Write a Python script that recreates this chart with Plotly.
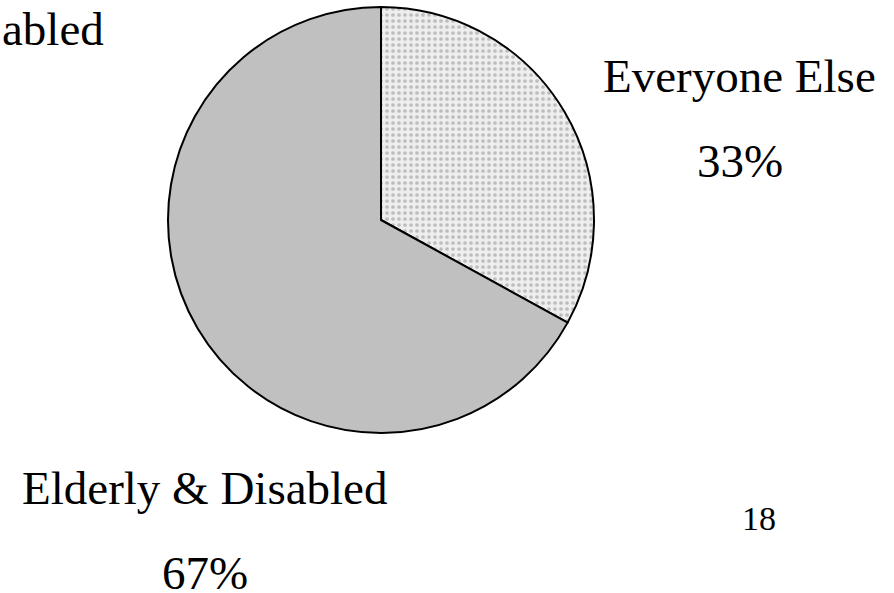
import plotly.graph_objects as go

W, H = 894, 593

labels = ["Everyone Else", "Elderly & Disabled"]
values = [33, 67]
pct_text = ["33%", "67%"]
slice_colors = ["#eeeeee", "#c0c0c0"]
slide_number = "18"

FONT = "Liberation Serif"

fig = go.Figure()
fig.add_trace(go.Pie(
    labels=labels,
    values=values,
    sort=False,
    direction="clockwise",
    rotation=0,
    textinfo="none",
    hoverinfo="skip",
    showlegend=False,
    marker=dict(
        colors=slice_colors,
        line=dict(color="black", width=2),
        pattern=dict(
            shape=[".", ""],
            fgcolor=["#bdbdbd", "#c0c0c0"],
            bgcolor=slice_colors,
            size=6,
            solidity=0.3,
        ),
    ),
    domain=dict(x=[(381 - 213) / W, (381 + 213) / W],
                y=[1 - (220 + 213) / H, 1 - (220 - 213) / H]),
))


def px(x):
    return x / W


def py(y):
    return 1 - y / H


def ann(text, x, y, size, xanchor="center"):
    fig.add_annotation(text=text, x=px(x), y=py(y), xref="paper", yref="paper",
                       xanchor=xanchor, yanchor="middle", showarrow=False,
                       font=dict(family=FONT, size=size, color="black"))


# cut-off title fragment at top-left
ann("abled", 0, 29, 47, xanchor="left")
ann(labels[0], 739.5, 76, 47)
ann(pct_text[0], 740, 161, 47)
ann(labels[1], 204, 488, 47)
ann(pct_text[1], 204.5, 573, 47)
ann(slide_number, 759, 518, 34)

fig.update_layout(
    width=W, height=H,
    margin=dict(l=0, r=0, t=0, b=0),
    paper_bgcolor="white",
    plot_bgcolor="white",
    font=dict(family=FONT),
)

fig.write_html("out.html", config={"displayModeBar": False})
